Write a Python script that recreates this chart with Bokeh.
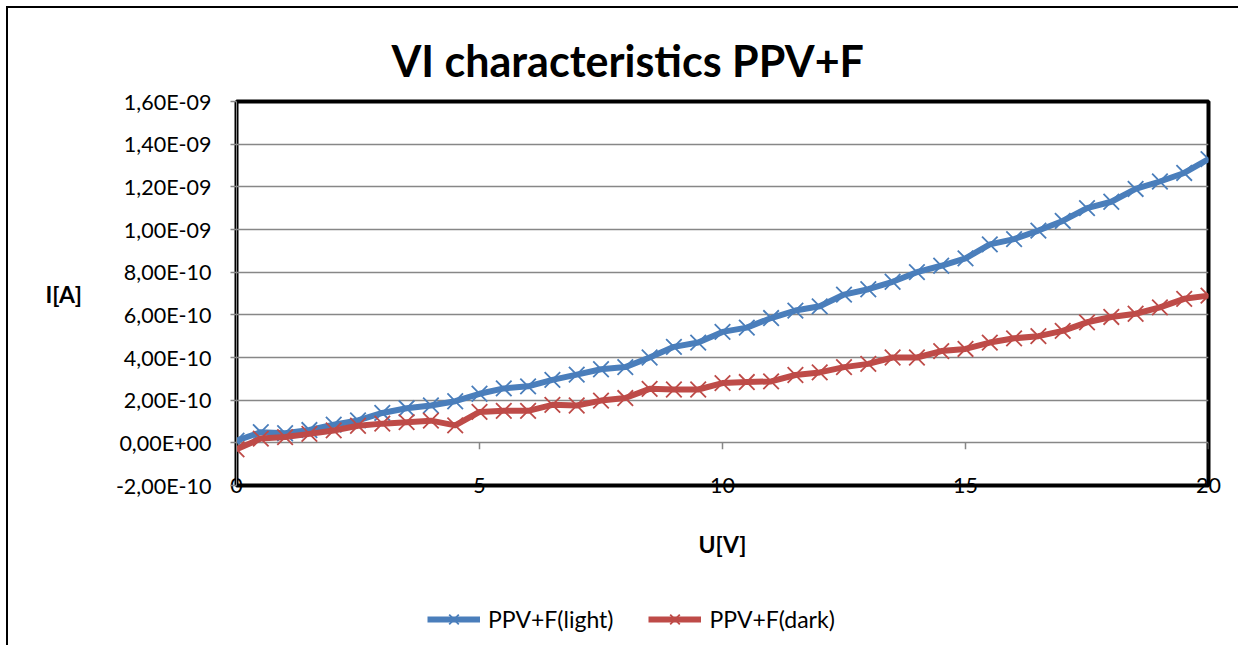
from bokeh.plotting import figure
from bokeh.layouts import column
from bokeh.models import (ColumnDataSource, Range1d, FixedTicker, Legend, LegendItem, Title)
from bokeh.embed import file_html
from bokeh.resources import INLINE

# ---- data ----
voltage = [0.0, 0.5, 1.0, 1.5, 2.0, 2.5, 3.0, 3.5, 4.0, 4.5, 5.0, 5.5, 6.0, 6.5, 7.0,
           7.5, 8.0, 8.5, 9.0, 9.5, 10.0, 10.5, 11.0, 11.5, 12.0, 12.5, 13.0, 13.5,
           14.0, 14.5, 15.0, 15.5, 16.0, 16.5, 17.0, 17.5, 18.0, 18.5, 19.0, 19.5, 20.0]

current_light = [0.10e-10, 0.50e-10, 0.45e-10, 0.60e-10, 0.85e-10, 1.05e-10, 1.40e-10,
                 1.62e-10, 1.75e-10, 1.95e-10, 2.30e-10, 2.55e-10, 2.65e-10, 2.95e-10,
                 3.20e-10, 3.45e-10, 3.55e-10, 4.00e-10, 4.50e-10, 4.70e-10, 5.20e-10,
                 5.40e-10, 5.85e-10, 6.20e-10, 6.40e-10, 6.95e-10, 7.20e-10, 7.55e-10,
                 8.00e-10, 8.30e-10, 8.65e-10, 9.30e-10, 9.55e-10, 9.95e-10, 10.40e-10,
                 11.00e-10, 11.30e-10, 11.90e-10, 12.25e-10, 12.65e-10, 13.30e-10]

current_dark = [-0.30e-10, 0.20e-10, 0.27e-10, 0.42e-10, 0.58e-10, 0.80e-10, 0.90e-10,
                0.97e-10, 1.04e-10, 0.82e-10, 1.45e-10, 1.50e-10, 1.50e-10, 1.78e-10,
                1.75e-10, 1.98e-10, 2.10e-10, 2.53e-10, 2.50e-10, 2.50e-10, 2.80e-10,
                2.85e-10, 2.88e-10, 3.18e-10, 3.30e-10, 3.55e-10, 3.70e-10, 4.00e-10,
                4.00e-10, 4.30e-10, 4.40e-10, 4.70e-10, 4.90e-10, 5.00e-10, 5.25e-10,
                5.65e-10, 5.90e-10, 6.05e-10, 6.35e-10, 6.75e-10, 6.90e-10]

series_names = ["PPV+F(light)", "PPV+F(dark)"]

x_ticks = [0, 5, 10, 15, 20]
y_ticks = [-2e-10, 0.0, 2e-10, 4e-10, 6e-10, 8e-10, 1e-9, 1.2e-9, 1.4e-9, 1.6e-9]
y_tick_labels = ["-2,00E-10", "0,00E+00", "2,00E-10", "4,00E-10", "6,00E-10",
                 "8,00E-10", "1,00E-09", "1,20E-09", "1,40E-09", "1,60E-09"]

title_text = "VI characteristics PPV+F"
x_label = "U[V]"
y_label = "I[A]"

# ---- styling ----
BLUE = "#4A7EBB"
RED = "#BE4B48"
GRID = "#878787"
FONT = "Lato"
TICK_FS = "21.5px"
LINE_W = 6
MARK_SIZE = 22
MARK_W = 1.8

src = ColumnDataSource(dict(u=voltage, light=current_light, dark=current_dark))

p = figure(width=1230, height=577, frame_width=972, frame_height=384,
           output_backend="svg", toolbar_location=None,
           x_range=Range1d(0, 20), y_range=Range1d(-2e-10, 1.6e-9),
           min_border_left=228, min_border_right=30, min_border_top=93,
           min_border_bottom=100, background_fill_color="white",
           border_fill_color="white")

p.outline_line_color = "black"
p.outline_line_width = 4

# title
p.title = Title(text=title_text, align="left", offset=155, standoff=31,
                text_font=FONT, text_font_size="43px", text_font_style="bold",
                text_color="black")

# grid
p.xgrid.visible = False
p.ygrid.ticker = FixedTicker(ticks=y_ticks)
p.ygrid.grid_line_color = GRID
p.ygrid.grid_line_width = 1.5

# y axis
ya = p.yaxis[0]
ya.ticker = FixedTicker(ticks=y_ticks)
ya.major_label_overrides = {t_: l_ for t_, l_ in zip(y_ticks, y_tick_labels)}
ya.major_tick_out = 6
ya.major_tick_in = 0
ya.minor_tick_out = 0
ya.minor_tick_in = 0
ya.major_tick_line_color = GRID
ya.major_tick_line_width = 1.5
ya.axis_line_color = GRID
ya.major_label_standoff = 19
ya.major_label_text_font = FONT
ya.major_label_text_font_size = TICK_FS
ya.major_label_text_color = "black"
ya.axis_label = y_label
ya.axis_label_orientation = "horizontal"
ya.axis_label_text_font = FONT
ya.axis_label_text_font_size = "23px"
ya.axis_label_text_font_style = "bold"
ya.axis_label_text_color = "black"
ya.axis_label_standoff = 31

# x axis
xa = p.xaxis[0]
xa.ticker = FixedTicker(ticks=x_ticks)
xa.major_tick_out = 0
xa.major_tick_in = 0
xa.minor_tick_out = 0
xa.minor_tick_in = 0
xa.axis_line_color = None
xa.major_label_standoff = -8
xa.major_label_text_font = FONT
xa.major_label_text_font_size = TICK_FS
xa.major_label_text_color = "black"
xa.axis_label = x_label
xa.axis_label_text_font = FONT
xa.axis_label_text_font_size = "23px"
xa.axis_label_text_font_style = "bold"
xa.axis_label_text_color = "black"
xa.axis_label_standoff = 34

# small tick marks hanging from the zero line (horizontal axis crosses at 0)
p.segment(x0=x_ticks, y0=[0.0] * len(x_ticks), x1=x_ticks,
          y1=[-0.3e-10] * len(x_ticks), line_color=GRID, line_width=1.5)

# series
p.line("u", "light", source=src, line_color=BLUE, line_width=LINE_W, line_join="round")
p.scatter("u", "light", source=src, marker="x", size=MARK_SIZE, line_color=BLUE, line_width=MARK_W)
p.line("u", "dark", source=src, line_color=RED, line_width=LINE_W, line_join="round")
p.scatter("u", "dark", source=src, marker="x", size=MARK_SIZE, line_color=RED, line_width=MARK_W)

# ---- legend strip (separate canvas below so that it is never clipped) ----
# its renderers reuse the series data, which lies outside this strip's ranges
q = figure(width=1230, height=60, output_backend="svg", toolbar_location=None,
           x_range=Range1d(100, 101), y_range=Range1d(100, 101), min_border=0,
           background_fill_color="white", border_fill_color="white")
q.axis.visible = False
q.grid.visible = False
q.outline_line_color = None
lg1 = q.line("u", "light", source=src, line_color=BLUE, line_width=LINE_W)
mg1 = q.scatter("u", "light", source=src, marker="x", size=MARK_SIZE, line_color=BLUE, line_width=MARK_W)
lg2 = q.line("u", "dark", source=src, line_color=RED, line_width=LINE_W)
mg2 = q.scatter("u", "dark", source=src, marker="x", size=MARK_SIZE, line_color=RED, line_width=MARK_W)

legend = Legend(items=[LegendItem(label=series_names[0], renderers=[lg1, mg1]),
                       LegendItem(label=series_names[1], renderers=[lg2, mg2])],
                orientation="horizontal", location=(191, 9),
                border_line_color=None, background_fill_alpha=0,
                label_text_font=FONT, label_text_font_size="23px",
                label_text_color="black", glyph_width=53, glyph_height=34,
                label_standoff=8, spacing=35, padding=4, margin=0)
q.add_layout(legend, "center")

layout = column(p, q, spacing=0,
                styles={"border-top": "2px solid black", "border-left": "2px solid black",
                        "margin-top": "6px", "margin-left": "6px"})

open("out.html", "w").write(file_html(layout, INLINE))
